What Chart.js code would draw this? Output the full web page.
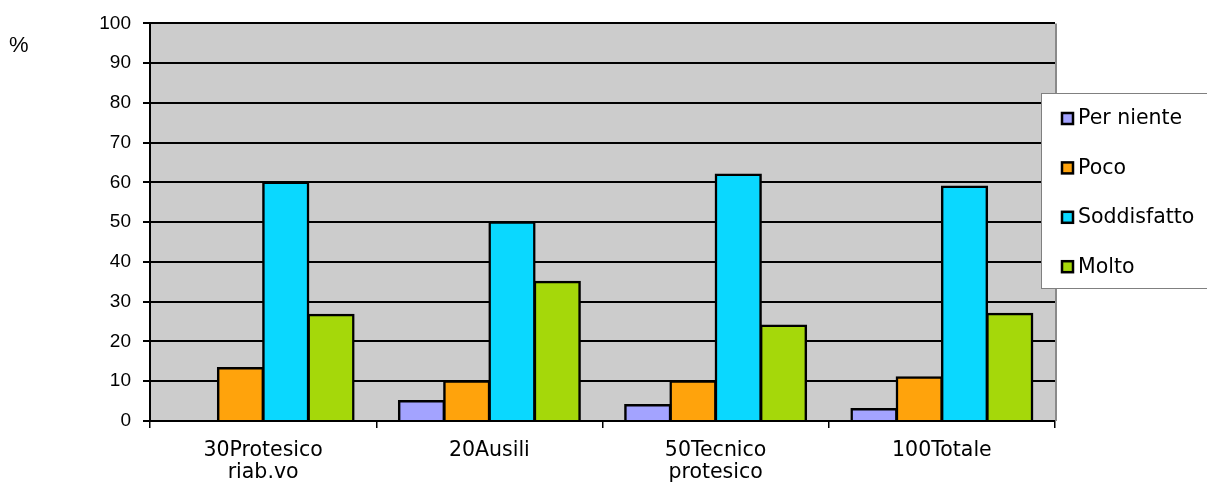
<!DOCTYPE html>
<html>
<head>
<meta charset="utf-8">
<script src="https://cdn.jsdelivr.net/npm/chart.js@4/dist/chart.umd.min.js"></script>
<style>
  body { margin: 0; background: #fff; }
  #wrap { width: 1207px; height: 486px; position: relative; }
</style>
</head>
<body>
<div id="wrap"><canvas id="myChart"></canvas></div>
<script>
// data
const categories = [
    ['30Protesico', 'riab.vo'],
    ['20Ausili'],
    ['50Tecnico', 'protesico'],
    ['100Totale']
];
const seriesNames = ['Per niente', 'Poco', 'Soddisfatto', 'Molto'];
const perNiente = [0, 5, 4, 3];
const poco = [13.3, 10, 10, 11];
const soddisfatto = [60, 50, 62, 59];
const molto = [26.7, 35, 24, 27];
const seriesColors = ['#a3a3ff', '#ffa30c', '#0ad8ff', '#a5d80a'];
const yMin = 0, yMax = 100, yStep = 10;

// grey plot background + right border + "%" label
const plotBg = {
    id: 'plotBg',
    beforeDraw(chart) {
        const { ctx, chartArea: a } = chart;
        ctx.save();
        ctx.fillStyle = '#cccccc';
        ctx.fillRect(a.left, a.top, a.right - a.left, a.bottom - a.top);
        ctx.restore();
    },
    afterDraw(chart) {
        const { ctx, chartArea: a } = chart;
        ctx.save();
        ctx.strokeStyle = '#8a8a8a';
        ctx.lineWidth = 2;
        ctx.beginPath();
        ctx.moveTo(a.right + 1, a.top);
        ctx.lineTo(a.right + 1, a.bottom);
        ctx.stroke();
        ctx.fillStyle = '#000';
        ctx.font = '22px "Liberation Sans", sans-serif';
        ctx.textBaseline = 'middle';
        ctx.fillText('%', 9, 46);
        ctx.restore();
    }
};

// legend box overlapping the right edge of the plot
const boxLegend = {
    id: 'boxLegend',
    afterDraw(chart) {
        const { ctx } = chart;
        const x = 1041, y = 93, w = 180, h = 195;
        ctx.save();
        ctx.fillStyle = '#fff';
        ctx.fillRect(x, y, w, h);
        ctx.strokeStyle = '#808080';
        ctx.lineWidth = 1;
        ctx.strokeRect(x + 0.5, y + 0.5, w, h);
        ctx.font = '20.5px "DejaVu Sans", sans-serif';
        ctx.textBaseline = 'middle';
        chart.data.datasets.forEach((ds, i) => {
            const cy = 118 + i * 49.4;
            ctx.fillStyle = ds.backgroundColor;
            ctx.fillRect(1062, cy - 5, 11, 11);
            ctx.strokeStyle = '#000';
            ctx.lineWidth = 2.5;
            ctx.strokeRect(1062, cy - 5, 11, 11);
            ctx.fillStyle = '#000';
            ctx.fillText(ds.label, 1078, cy + 1);
        });
        ctx.restore();
    }
};

const ctx = document.getElementById('myChart');
new Chart(ctx, {
    type: 'bar',
    data: {
        labels: categories,
        datasets: [perNiente, poco, soddisfatto, molto].map((d, i) => ({
            label: seriesNames[i],
            data: d,
            backgroundColor: seriesColors[i],
            borderColor: '#000',
            borderWidth: 2.5,
            inflateAmount: 1,
            barPercentage: 1.0,
            categoryPercentage: 0.8
        }))
    },
    options: {
        responsive: true,
        maintainAspectRatio: false,
        animation: false,
        layout: {
            padding: { left: 0, top: 22, right: 152, bottom: 0 }
        },
        plugins: {
            legend: { display: false },
            tooltip: { enabled: false }
        },
        scales: {
            x: {
                grid: {
                    drawOnChartArea: false,
                    drawTicks: true,
                    tickLength: 7,
                    color: '#000',
                    lineWidth: 1.5
                },
                border: { color: '#000', width: 2 },
                ticks: {
                    color: '#000',
                    padding: 12,
                    maxRotation: 0,
                    font: { size: 20.5, family: '"DejaVu Sans", sans-serif', lineHeight: '22px' }
                },
                afterFit(scale) { scale.height = 65; }
            },
            y: {
                min: yMin,
                max: yMax,
                ticks: {
                    stepSize: yStep,
                    color: '#000',
                    padding: 12,
                    font: { size: 19, family: '"Liberation Sans", sans-serif' }
                },
                grid: {
                    color: '#000',
                    lineWidth: 2,
                    tickLength: 7
                },
                border: { color: '#000', width: 2 },
                afterFit(scale) { scale.width = 150; }
            }
        }
    },
    plugins: [plotBg, boxLegend]
});
</script>
</body>
</html>
